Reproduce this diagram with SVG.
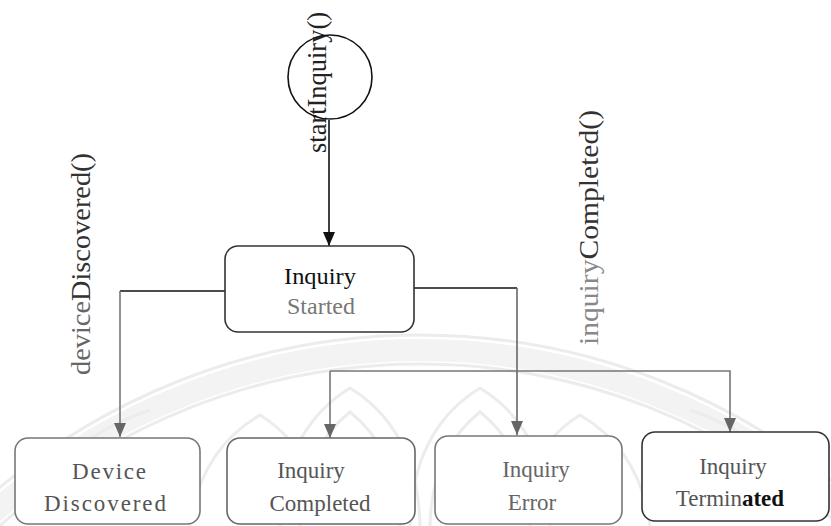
<svg xmlns="http://www.w3.org/2000/svg" width="831" height="526" viewBox="0 0 831 526">
  <defs>
    <style>
      .wm { fill: none; stroke: #ececec; stroke-width: 3; }
      .wmband { fill: none; stroke: #f3f3f3; stroke-width: 22; }
      .node rect { fill: #ffffff; stroke-width: 1.6; }
      .state { font-family: "Liberation Serif", "Times New Roman", serif; font-size: 23px; text-anchor: middle; }
      .label { font-family: "Liberation Serif", "Times New Roman", serif; font-size: 27px; }
      .edge { fill: none; stroke-width: 1.6; }
    </style>
    <marker id="arrowDark" viewBox="0 0 12 14" refX="6" refY="14" markerWidth="12" markerHeight="14" markerUnits="userSpaceOnUse">
      <path d="M0 0 L12 0 L6 14 Z" fill="#111"/>
    </marker>
    <marker id="arrowGray" viewBox="0 0 12 14" refX="6" refY="14" markerWidth="12" markerHeight="14" markerUnits="userSpaceOnUse">
      <path d="M0 0 L12 0 L6 14 Z" fill="#666"/>
    </marker>
  </defs>

  <rect width="831" height="526" fill="#ffffff"/>

  <!-- faint seal in the page background -->
  <g id="watermark">
    <circle class="wmband" cx="420" cy="990" r="640"/>
    <circle class="wm" cx="420" cy="990" r="655"/>
    <circle class="wm" cx="420" cy="990" r="626"/>
    <path class="wm" d="M280 526 Q282 430 350 388 Q418 430 420 526"/>
    <path class="wm" d="M300 526 Q302 450 350 412 Q398 450 400 526"/>
    <path class="wm" d="M410 526 Q412 430 480 388 Q548 430 550 526"/>
    <path class="wm" d="M430 526 Q432 450 480 412 Q528 450 530 526"/>
    <path class="wm" d="M190 526 Q200 450 260 415 Q300 440 310 480"/>
    <path class="wm" d="M650 526 Q640 450 580 415 Q540 440 530 480"/>
    <path class="wm" d="M20 520 Q60 440 150 410"/>
    <path class="wm" d="M820 520 Q780 440 690 410"/>
  </g>

  <!-- transitions -->
  <g id="connectors">
    <line class="edge" x1="329" y1="120" x2="329" y2="246" stroke="#111" marker-end="url(#arrowDark)"/>
    <path class="edge" d="M225 291 L120 291" stroke="#111"/>
    <path class="edge" d="M120 291 L120 437" stroke="#777" marker-end="url(#arrowGray)"/>
    <path class="edge" d="M414 288 L517 288" stroke="#111"/>
    <path class="edge" d="M517 288 L517 435" stroke="#666" marker-end="url(#arrowGray)"/>
    <path class="edge" d="M330 371 L730 371 L730 432" stroke="#777" marker-end="url(#arrowGray)"/>
    <path class="edge" d="M330 371 L330 438" stroke="#777" marker-end="url(#arrowGray)"/>
  </g>

  <!-- transition labels -->
  <g id="labels">
    <text class="label" transform="translate(326,153) rotate(-90)" textLength="141" lengthAdjust="spacingAndGlyphs" fill="#222">startInquiry()</text>
    <text class="label" transform="translate(90,375) rotate(-90)" textLength="222" lengthAdjust="spacingAndGlyphs"><tspan fill="#666">device</tspan><tspan fill="#333">Discovered()</tspan></text>
    <text class="label" transform="translate(598,345) rotate(-90)" textLength="235" lengthAdjust="spacingAndGlyphs"><tspan fill="#888">inquiry</tspan><tspan fill="#333">Completed()</tspan></text>
  </g>

  <!-- initial pseudo-state -->
  <g id="initial">
    <circle cx="330" cy="77" r="42" fill="none" stroke="#111" stroke-width="1.6"/>
  </g>

  <g id="inquiry-started" class="node">
    <rect x="225" y="246" width="189" height="86" rx="13" stroke="#333"/>
    <text class="state" x="320" y="284" fill="#111" font-size="25" textLength="72" lengthAdjust="spacingAndGlyphs">Inquiry</text>
    <text class="state" x="321" y="314" fill="#777" font-size="25" textLength="68" lengthAdjust="spacingAndGlyphs">Started</text>
  </g>

  <g id="device-discovered" class="node">
    <rect x="15" y="438" width="185" height="86" rx="13" stroke="#777"/>
    <text class="state" x="109" y="479" fill="#555" font-size="24" textLength="74" lengthAdjust="spacing">Device</text>
    <text class="state" x="105" y="511" fill="#555" font-size="24" textLength="122" lengthAdjust="spacing">Discovered</text>
  </g>

  <g id="inquiry-completed" class="node">
    <rect x="227" y="438" width="188" height="86" rx="13" stroke="#666"/>
    <text class="state" x="311" y="478" fill="#555">Inquiry</text>
    <text class="state" x="320" y="511" fill="#555">Completed</text>
  </g>

  <g id="inquiry-error" class="node">
    <rect x="435" y="436" width="187" height="88" rx="13" stroke="#777"/>
    <text class="state" x="536" y="477" fill="#666" font-size="21">Inquiry</text>
    <text class="state" x="532" y="510" fill="#666" font-size="21">Error</text>
  </g>

  <g id="inquiry-terminated" class="node">
    <rect x="642" y="432" width="187" height="89" rx="13" stroke="#333"/>
    <text class="state" x="733" y="474" fill="#555">Inquiry</text>
    <text class="state" x="730" y="506" fill="#555">Termin<tspan fill="#111" font-weight="bold">ated</tspan></text>
  </g>
</svg>
